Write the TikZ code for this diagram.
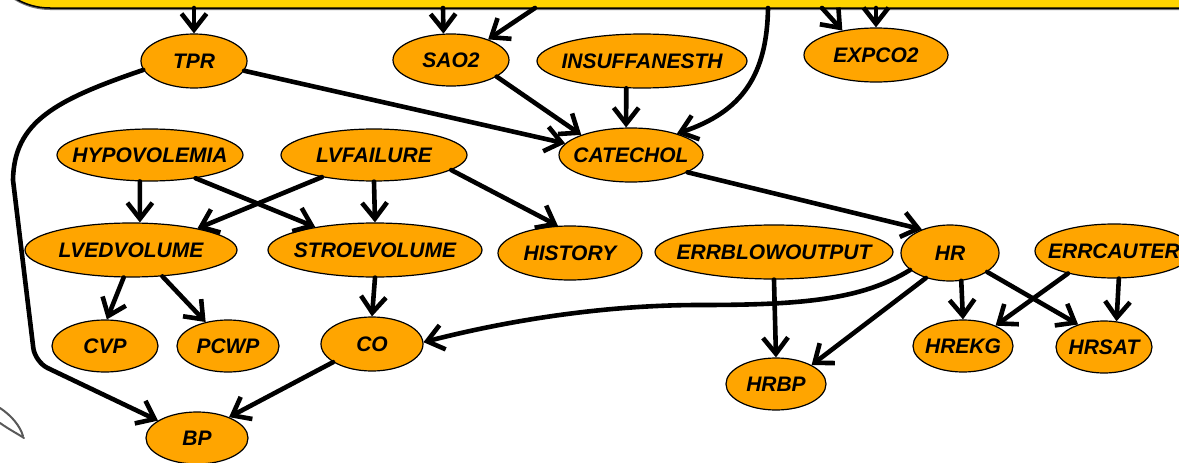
\documentclass[tikz,border=0pt]{standalone}
\usepackage{fontspec}
\setmainfont{Liberation Sans}
\usetikzlibrary{shapes.geometric,arrows.meta,shadows}
\definecolor{varorange}{HTML}{FFA500}
\definecolor{boxyellow}{HTML}{FFD400}
\newcommand{\vname}[1]{\makebox[0pt]{#1}}
\begin{document}
\begin{tikzpicture}[x=1pt,y=-1pt,
  var/.style={ellipse, draw=black, line width=1.2pt, fill=varorange, inner sep=0pt,
    font=\fontsize{21}{25}\selectfont\bfseries\itshape},
  sz/.style 2 args={minimum width=#1pt, minimum height=#2pt},
  dep/.style={line width=4.6pt, line cap=round, line join=round,
    -{Straight Barb[length=16pt,width=25pt]}},
  topbox/.style={rectangle, draw=black, line width=1.5pt, fill=boxyellow,
    rounded corners=68pt, minimum width=1268pt, minimum height=158pt,
    drop shadow={shadow xshift=0pt, shadow yshift=-2pt, fill=black!55, opacity=1}},
  scribble/.style={draw=black!65, line width=2pt, line cap=round}]
\useasboundingbox (0,0) rectangle (1179,463);
\clip (0,0) rectangle (1179,463);

% yellow panel running off the top edge
\node[topbox] (top) at (616,-71) {};
\coordinate (t1) at (194,8);
\coordinate (t2) at (443,8);
\coordinate (t3) at (535,8);
\coordinate (t4) at (768,8);
\coordinate (t5) at (822,8);
\coordinate (t6) at (876,8);

% variables
\node[var, sz={106}{54}] (tpr)      at (194,61)  {\vname{TPR}};
\node[var, sz={116}{52}] (sao2)     at (451,60)  {\vname{SAO2}};
\node[var, sz={210}{54}] (insuff)   at (642,61)  {\vname{INSUFFANESTH}};
\node[var, sz={144}{54}] (expco2)   at (876,55)  {\vname{EXPCO2}};
\node[var, sz={144}{54}] (catechol) at (631,155) {\vname{CATECHOL}};
\node[var, sz={186}{52}] (hypo)     at (150,155) {\vname{HYPOVOLEMIA}};
\node[var, sz={186}{52}] (lvf)      at (374,155) {\vname{LVFAILURE}};
\node[var, sz={212}{54}] (lved)     at (131,250) {\vname{LVEDVOLUME}};
\node[var, sz={214}{54}] (stroe)    at (375,250) {\vname{STROEVOLUME}};
\node[var, sz={144}{54}] (history)  at (570,253) {\vname{HISTORY}};
\node[var, sz={238}{54}] (errb)     at (774,252) {\vname{ERRBLOWOUTPUT}};
\node[var, sz={98}{56}]  (hr)       at (950,253) {\vname{HR}};
\node[var, sz={158}{54}] (errc)     at (1114,251) {\vname{ERRCAUTER}};
\node[var, sz={106}{52}] (cvp)      at (105,346) {\vname{CVP}};
\node[var, sz={102}{52}] (pcwp)     at (228,346) {\vname{PCWP}};
\node[var, sz={102}{54}] (co)       at (372,344) {\vname{CO}};
\node[var, sz={102}{52}] (bp)       at (197,438) {\vname{BP}};
\node[var, sz={100}{52}] (hrbp)     at (776,384) {\vname{HRBP}};
\node[var, sz={100}{52}] (hrekg)    at (963,346) {\vname{HREKG}};
\node[var, sz={96}{52}]  (hrsat)    at (1104,347) {\vname{HRSAT}};

% edges leaving the panel
\draw[dep] (t1) -- (tpr.north);
\draw[dep] (t2) -- (sao2.106);
\draw[dep] (t3) -- (sao2.29);
\draw[dep] (t4) .. controls (767,75) and (742,112) .. (catechol.25);
\draw[dep] (t5) -- (expco2.144);
\draw[dep] (t6) -- (expco2.north);

% dependencies
\draw[dep] (tpr.-11) -- (catechol.170);
\draw[dep] (tpr.190) .. controls (55,100) and (14,122) .. (13,180)
  [rounded corners=14pt] -- (35,362) -- (bp.156);
\draw[dep] (sao2.-20) -- (catechol.158);
\draw[dep] (insuff.240) -- (catechol.100);
\draw[dep] (hypo.249) -- (lved.72);
\draw[dep] (hypo.333) -- (stroe.159);
\draw[dep] (lvf.203) -- (lved.18);
\draw[dep] (lvf.south) -- (stroe.north);
\draw[dep] (lvf.349) -- (history.114);
\draw[dep] (catechol.343) -- (hr.140);
\draw[dep] (lved.255) -- (cvp.86);
\draw[dep] (lved.320) -- (pcwp.133);
\draw[dep] (stroe.south) -- (co.north);
\draw[dep] (co.205) -- (bp.33);
\draw[dep] (hr.203) .. controls (862,300) and (800,305) .. (700,305)
  .. controls (590,305) and (490,325) .. (co.2);
\draw[dep] (hr.226) -- (hrbp.28);
\draw[dep] (hr.292) -- (hrekg.90);
\draw[dep] (hr.333) -- (hrsat.139);
\draw[dep] (errb.south) -- (hrbp.north);
\draw[dep] (errc.206) -- (hrekg.32);
\draw[dep] (errc.-80) -- (hrsat.64);

% pen stroke in the lower left corner
\draw[scribble] (0,408) .. controls (12,416) and (20,426) .. (23,436);
\draw[scribble] (0,423) .. controls (10,430) and (18,434) .. (24,438);
\end{tikzpicture}
\end{document}
